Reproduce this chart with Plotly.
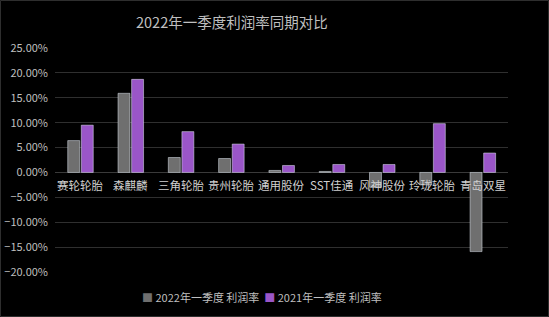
import plotly.graph_objects as go

categories = ["赛轮轮胎", "森麒麟", "三角轮胎", "贵州轮胎", "通用股份", "SST佳通", "风神股份", "玲珑轮胎", "青岛双星"]
rate_2022 = [0.064, 0.159, 0.030, 0.028, 0.004, 0.002, -0.030, -0.025, -0.159]
rate_2021 = [0.095, 0.187, 0.082, 0.057, 0.014, 0.016, 0.016, 0.098, 0.039]
series_names = ["2022年一季度 利润率", "2021年一季度 利润率"]
series_colors = ["#6f6f6f", "#9a56c8"]
tick_vals = [-0.20, -0.15, -0.10, -0.05, 0.0, 0.05, 0.10, 0.15, 0.20, 0.25]

FONT = "Noto Sans CJK SC, Open Sans, sans-serif"
W, H = 549, 317
L, R, T, B = 55, 41, 48, 45
PW, PH = W - L - R, H - T - B


def px_to_paper(px, py):
    return (px - L) / PW, (H - B - py) / PH


fig = go.Figure()
for name, vals, col in zip(series_names, [rate_2022, rate_2021], series_colors):
    fig.add_trace(go.Bar(x=categories, y=vals, name=name, marker_color=col, showlegend=False))

for c in categories:
    fig.add_annotation(x=c, y=0, xref="x", yref="y", text=c, showarrow=False,
                       yanchor="top", yshift=-3, font=dict(family=FONT, size=11.5, color="#d0d0d0"))

# title
tx, ty = px_to_paper(232, 22)
fig.add_annotation(x=tx, y=ty, xref="paper", yref="paper",
                   text="2022年一季度利润率同期对比", showarrow=False,
                   xanchor="center", yanchor="middle",
                   font=dict(family=FONT, size=14.5, color="#bfbfbf"))

# legend (drawn as text)
legend_text = "  ".join(
    f'<span style="color:{col}">■</span> {name}' for name, col in zip(series_names, series_colors)
)
lx, ly = px_to_paper(262, 297)
fig.add_annotation(x=lx, y=ly, xref="paper", yref="paper",
                   text=legend_text, showarrow=False, xanchor="center", yanchor="middle",
                   font=dict(family=FONT, size=11, color="#bfbfbf"))

# faint outer frame
x0, y1 = px_to_paper(0.5, 0.5)
x1, y0 = px_to_paper(W - 0.5, H - 0.5)
fig.add_shape(type="rect", xref="paper", yref="paper", x0=x0, x1=x1, y0=y0, y1=y1,
              line=dict(color="#2e2e2e", width=1), fillcolor="rgba(0,0,0,0)", layer="below")

fig.update_layout(
    width=W, height=H,
    margin=dict(l=L, r=R, t=T, b=B, autoexpand=False),
    paper_bgcolor="black", plot_bgcolor="black",
    barmode="group", bargap=0.46, bargroupgap=0.12,
    font=dict(family=FONT, color="#bfbfbf", size=11),
    showlegend=False,
    xaxis=dict(showticklabels=False, showgrid=False, zeroline=False, showline=False, ticks=""),
    yaxis=dict(range=[-0.20, 0.25], tickvals=tick_vals, tickformat=".2%",
               gridcolor="#2f2f2f", gridwidth=1, zeroline=True, zerolinecolor="#3a3a3a",
               zerolinewidth=1, showline=False, ticks="", ticklabelstandoff=6,
               tickfont=dict(family=FONT, size=11, color="#bfbfbf")),
)

fig.write_html("out.html")
